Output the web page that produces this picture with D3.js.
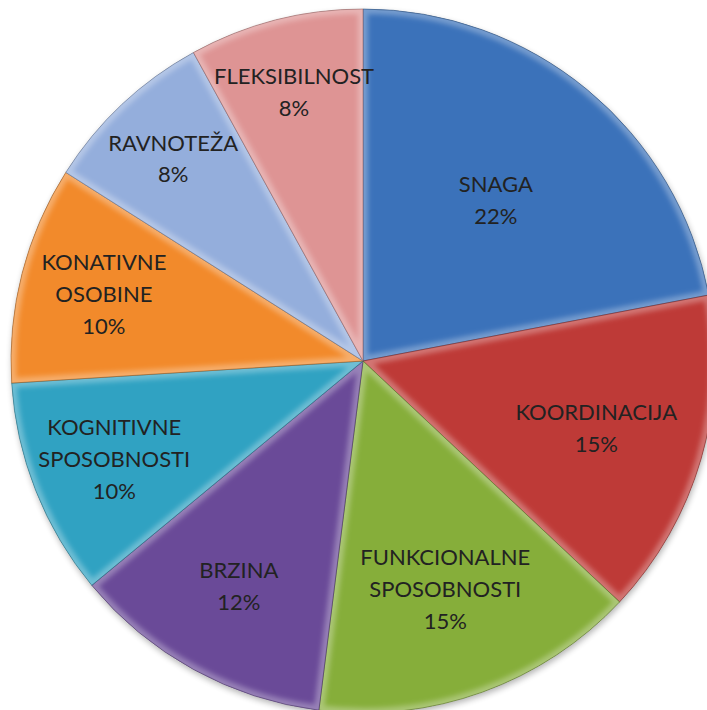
<!DOCTYPE html>
<html>
<head>
<meta charset="utf-8">
<script src="https://cdn.jsdelivr.net/npm/d3@7"></script>
<style>
  body { margin: 0; background: #fff; }
  svg { display: block; }
</style>
</head>
<body>
<div id="chart"></div>
<script>
let width = 707;
let height = 710;

// Data
const categories = ["SNAGA", "KOORDINACIJA", "FUNKCIONALNE SPOSOBNOSTI", "BRZINA",
  "KOGNITIVNE SPOSOBNOSTI", "KONATIVNE OSOBINE", "RAVNOTEŽA", "FLEKSIBILNOST"];
const values = [22, 15, 15, 12, 10, 10, 8, 8];
// how each label breaks into lines
const labelLines = [["SNAGA"], ["KOORDINACIJA"], ["FUNKCIONALNE", "SPOSOBNOSTI"], ["BRZINA"],
  ["KOGNITIVNE", "SPOSOBNOSTI"], ["KONATIVNE", "OSOBINE"], ["RAVNOTEŽA"], ["FLEKSIBILNOST"]];
const colors = ["#3b72ba", "#be3a37", "#86ae3a", "#6a4a98", "#30a2c2", "#f28a2b", "#94aedc", "#de9494"];

let svg = d3.select("#chart").append("svg")
  .attr("width", width)
  .attr("height", height);

let cx = 363, cy = 361, radius = 352;

let pie = d3.pie().sort(null).value(d => d.value);
let arc = d3.arc().innerRadius(0).outerRadius(radius);

let rows = categories.map((c, i) => ({ name: c, value: values[i], lines: labelLines[i], color: colors[i] }));
let arcs = pie(rows);
let total = d3.sum(values);

let defs = svg.append("defs");

// soft drop shadow under the pie
let shadow = defs.append("filter").attr("id", "shadow")
  .attr("x", "-10%").attr("y", "-10%").attr("width", "120%").attr("height", "120%");
shadow.append("feGaussianBlur").attr("in", "SourceAlpha").attr("stdDeviation", 3);
shadow.append("feOffset").attr("dx", 1).attr("dy", 3).attr("result", "b");
shadow.append("feComponentTransfer").append("feFuncA").attr("type", "linear").attr("slope", 0.3);
let merge = shadow.append("feMerge");
merge.append("feMergeNode");
merge.append("feMergeNode").attr("in", "SourceGraphic");

// blur used for the soft bevel rim
defs.append("filter").attr("id", "soft")
  .append("feGaussianBlur").attr("stdDeviation", 2.5);

let g = svg.append("g").attr("transform", `translate(${cx},${cy})`);

g.append("circle").attr("r", radius).attr("fill", "#888").attr("filter", "url(#shadow)");

arcs.forEach((d, i) => {
  defs.append("clipPath").attr("id", "clip" + i)
    .append("path").attr("d", arc(d));
});

let slices = g.selectAll("g.slice")
  .data(arcs)
  .enter()
  .append("g")
  .attr("class", "slice");

slices.append("path")
  .attr("d", arc)
  .attr("fill", d => d.data.color);

// bevel: soft light rim inside each slice, then a dark seam
slices.append("g")
  .attr("clip-path", (d, i) => `url(#clip${i})`)
  .append("path")
  .attr("d", arc)
  .attr("fill", "none")
  .attr("stroke", "#fff")
  .attr("stroke-opacity", 0.3)
  .attr("stroke-width", 10)
  .attr("filter", "url(#soft)");

slices.append("path")
  .attr("d", arc)
  .attr("fill", "none")
  .attr("stroke", d => d3.color(d.data.color).darker(1.2))
  .attr("stroke-opacity", 0.55)
  .attr("stroke-width", 1);

// labels: placed deeper for smaller slices
let lineH = 32;
slices.append("text")
  .attr("transform", d => {
    let k = 0.9 - 1.4 * d.data.value / total;
    let la = d3.arc().innerRadius(radius * k).outerRadius(radius * k);
    let [x, y] = la.centroid(d);
    return `translate(${x},${y})`;
  })
  .attr("text-anchor", "middle")
  .style("font-family", "Lato, 'Open Sans', sans-serif")
  .style("font-size", "22px")
  .attr("fill", "#222")
  .each(function (d) {
    let t = d3.select(this);
    let lines = d.data.lines.concat([Math.round(d.data.value / total * 100) + "%"]);
    let y0 = -(lines.length - 1) * lineH / 2;
    lines.forEach((l, j) => {
      t.append("tspan")
        .attr("x", 0)
        .attr("y", y0 + j * lineH)
        .attr("dy", "0.35em")
        .text(l);
    });
  });
</script>
</body>
</html>
